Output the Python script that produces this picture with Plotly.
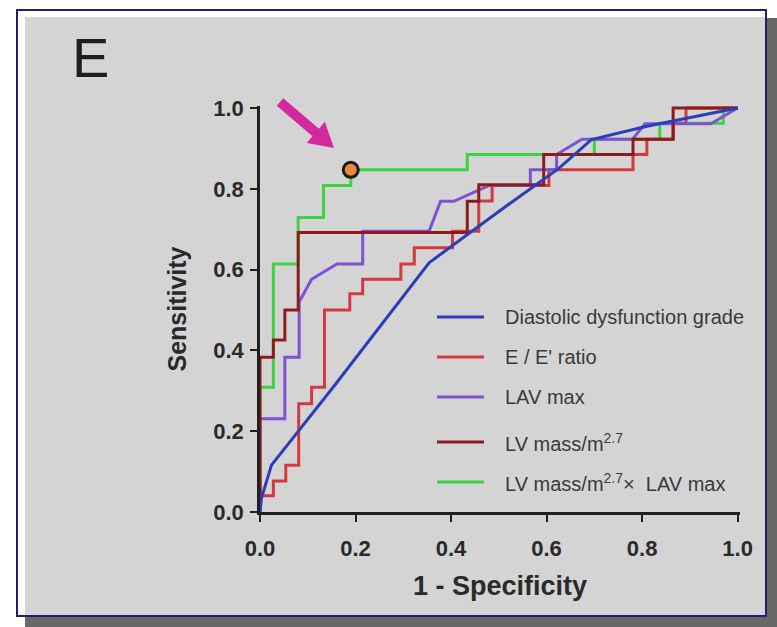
import math
import plotly.graph_objects as go

W, H = 777, 627
ML, MR, MT, MB = 260, 37, 106, 115
PW, PH = W - ML - MR, H - MT - MB

# ---------------- data ----------------
dd_x = [0.0, 0.003, 0.024, 0.156, 0.354, 0.50, 0.625, 0.694, 0.81, 1.0]
dd_y = [0.0, 0.034, 0.116, 0.313, 0.617, 0.744, 0.85, 0.922, 0.955, 1.0]

ee_x = [0.0, 0.0, 0.028, 0.028, 0.054, 0.054, 0.081, 0.081, 0.108, 0.108, 0.135, 0.135,
        0.188, 0.188, 0.215, 0.215, 0.295, 0.295, 0.323, 0.323, 0.403, 0.403, 0.458, 0.458,
        0.486, 0.486, 0.605, 0.605, 0.781, 0.781, 0.81, 0.81, 0.865, 0.865, 0.892, 0.892, 1.0]
ee_y = [0.0, 0.04, 0.04, 0.077, 0.077, 0.116, 0.116, 0.268, 0.268, 0.309, 0.309, 0.50,
        0.50, 0.54, 0.54, 0.576, 0.576, 0.614, 0.614, 0.654, 0.654, 0.695, 0.695, 0.77,
        0.77, 0.808, 0.808, 0.847, 0.847, 0.885, 0.885, 0.923, 0.923, 0.962, 0.962, 1.0, 1.0]

lav_x = [0.0, 0.0, 0.052, 0.052, 0.082, 0.082, 0.108, 0.161, 0.215, 0.215, 0.354, 0.378,
         0.406, 0.458, 0.479, 0.566, 0.566, 0.621, 0.621, 0.674, 0.78, 0.806, 0.944, 1.0]
lav_y = [0.0, 0.231, 0.231, 0.383, 0.383, 0.52, 0.576, 0.614, 0.614, 0.695, 0.695, 0.769,
         0.769, 0.797, 0.808, 0.808, 0.847, 0.847, 0.885, 0.923, 0.923, 0.961, 0.961, 1.0]

lvm_x = [0.0, 0.0, 0.028, 0.028, 0.052, 0.052, 0.080, 0.080, 0.434, 0.434, 0.458, 0.458,
         0.594, 0.594, 0.781, 0.781, 0.865, 0.865, 1.0]
lvm_y = [0.0, 0.383, 0.383, 0.426, 0.426, 0.50, 0.50, 0.692, 0.692, 0.769, 0.769, 0.81,
         0.81, 0.885, 0.885, 0.923, 0.923, 1.0, 1.0]

comb_x = [0.0, 0.0, 0.028, 0.028, 0.08, 0.08, 0.133, 0.133, 0.19, 0.19, 0.434, 0.434,
          0.70, 0.70, 0.837, 0.837, 0.97, 0.97, 1.0]
comb_y = [0.0, 0.309, 0.309, 0.614, 0.614, 0.729, 0.729, 0.808, 0.808, 0.847, 0.847, 0.885,
          0.885, 0.923, 0.923, 0.962, 0.962, 1.0, 1.0]

cut_x = [0.19]
cut_y = [0.847]

x_ticks = [0.0, 0.2, 0.4, 0.6, 0.8, 1.0]
y_ticks = [0.0, 0.2, 0.4, 0.6, 0.8, 1.0]

series_names = ["Diastolic dysfunction grade", "E / E' ratio", "LAV max",
                "LV mass/m<sup>2.7</sup>", "LV mass/m<sup>2.7</sup>\u00d7  LAV max"]
series_colors = ["#2b3db8", "#d33a40", "#7d52d4", "#8c1c1c", "#3fd43f"]

FONT = "Liberation Sans, Arial, Helvetica, sans-serif"

# ---------------- figure ----------------
fig = go.Figure()

series = [(dd_x, dd_y), (ee_x, ee_y), (lav_x, lav_y), (lvm_x, lvm_y), (comb_x, comb_y)]
draw_order = [4, 1, 2, 3, 0]
for i in draw_order:
    x, y = series[i]
    fig.add_trace(go.Scatter(x=x, y=y, mode="lines", name=series_names[i],
                             line=dict(color=series_colors[i], width=3),
                             showlegend=False, hoverinfo="skip"))

fig.add_trace(go.Scatter(x=cut_x, y=cut_y, mode="markers", showlegend=False,
                         name="cut-off", hoverinfo="skip",
                         marker=dict(size=15, color="#e8883a",
                                     line=dict(color="#1a1a1a", width=3)),
                         cliponaxis=False))


def px_x(p):
    return (p - ML) / PW


def px_y(p):
    return (H - MB - p) / PH


shapes = []
# shadow
shapes.append(dict(type="rect", xref="paper", yref="paper", layer="below",
                   x0=px_x(25), x1=px_x(777), y0=px_y(627), y1=px_y(18),
                   fillcolor="#686868", line=dict(width=0)))
# white page
shapes.append(dict(type="rect", xref="paper", yref="paper", layer="below",
                   x0=px_x(0), x1=px_x(767), y0=px_y(617), y1=px_y(0),
                   fillcolor="#ffffff", line=dict(width=0)))
# gray panel
shapes.append(dict(type="rect", xref="paper", yref="paper", layer="below",
                   x0=px_x(25), x1=px_x(766), y0=px_y(616), y1=px_y(17),
                   fillcolor="#d4d4d4", line=dict(width=0)))
# navy border
shapes.append(dict(type="rect", xref="paper", yref="paper", layer="below",
                   x0=px_x(17), x1=px_x(766), y0=px_y(616), y1=px_y(10),
                   fillcolor="rgba(0,0,0,0)", line=dict(color="#20206e", width=2)))

# magenta arrow (decoration) as a filled polygon, pixel geometry
tail = (280, 102)
tip = (334, 148)
dx, dy = tip[0] - tail[0], tip[1] - tail[1]
ln = math.hypot(dx, dy)
ux, uy = dx / ln, dy / ln
nx, ny = -uy, ux
sw, hw, hl = 5.0, 14.0, 24.0
bx, by = tip[0] - ux * hl, tip[1] - uy * hl
pts = [(tail[0] + nx * sw, tail[1] + ny * sw), (bx + nx * sw, by + ny * sw),
       (bx + nx * hw, by + ny * hw), tip, (bx - nx * hw, by - ny * hw),
       (bx - nx * sw, by - ny * sw), (tail[0] - nx * sw, tail[1] - ny * sw)]
path = "M " + " L ".join(f"{px_x(p[0]):.5f},{px_y(p[1]):.5f}" for p in pts) + " Z"
shapes.append(dict(type="path", xref="paper", yref="paper", path=path,
                   fillcolor="#d4289e", line=dict(width=0)))

# manual legend
leg_rows = [317, 357, 397, 442, 482]
annotations = []
for i, row in enumerate(leg_rows):
    shapes.append(dict(type="line", xref="paper", yref="paper",
                       x0=px_x(437), x1=px_x(484), y0=px_y(row), y1=px_y(row),
                       line=dict(color=series_colors[i], width=3)))
    annotations.append(dict(xref="paper", yref="paper", x=px_x(503), y=px_y(row),
                            text=series_names[i], showarrow=False,
                            xanchor="left", yanchor="middle",
                            font=dict(family=FONT, size=20, color="#3a3a3a")))

# panel letter
annotations.append(dict(xref="paper", yref="paper", x=px_x(70), y=px_y(58),
                        text="E", showarrow=False, xanchor="left", yanchor="middle",
                        font=dict(family=FONT, size=56, color="#1e1e1e")))

axis_common = dict(range=[0, 1.005], showgrid=False, zeroline=False, showline=True,
                   linecolor="#202020", linewidth=2.5, ticks="outside", ticklen=7,
                   tickwidth=2, tickcolor="#202020", tickformat=".1f",
                   tickfont=dict(family=FONT, size=22, color="#2a2a2a", weight="bold"))

fig.update_layout(
    width=W, height=H,
    margin=dict(l=ML, r=MR, t=MT, b=MB, pad=0),
    paper_bgcolor="#ffffff", plot_bgcolor="rgba(0,0,0,0)",
    shapes=shapes, annotations=annotations,
    xaxis=dict(axis_common, tickvals=x_ticks, ticklabelstandoff=8,
               title=dict(text="1 - Specificity", standoff=16,
                          font=dict(family=FONT, size=27, color="#2a2a2a", weight="bold"))),
    yaxis=dict(axis_common, tickvals=y_ticks, ticklabelstandoff=2,
               title=dict(text="Sensitivity", standoff=20,
                          font=dict(family=FONT, size=25, color="#2a2a2a", weight="bold"))),
)

fig.write_html("out.html", config={"displayModeBar": False},
               post_script="document.body.style.margin='0';")
